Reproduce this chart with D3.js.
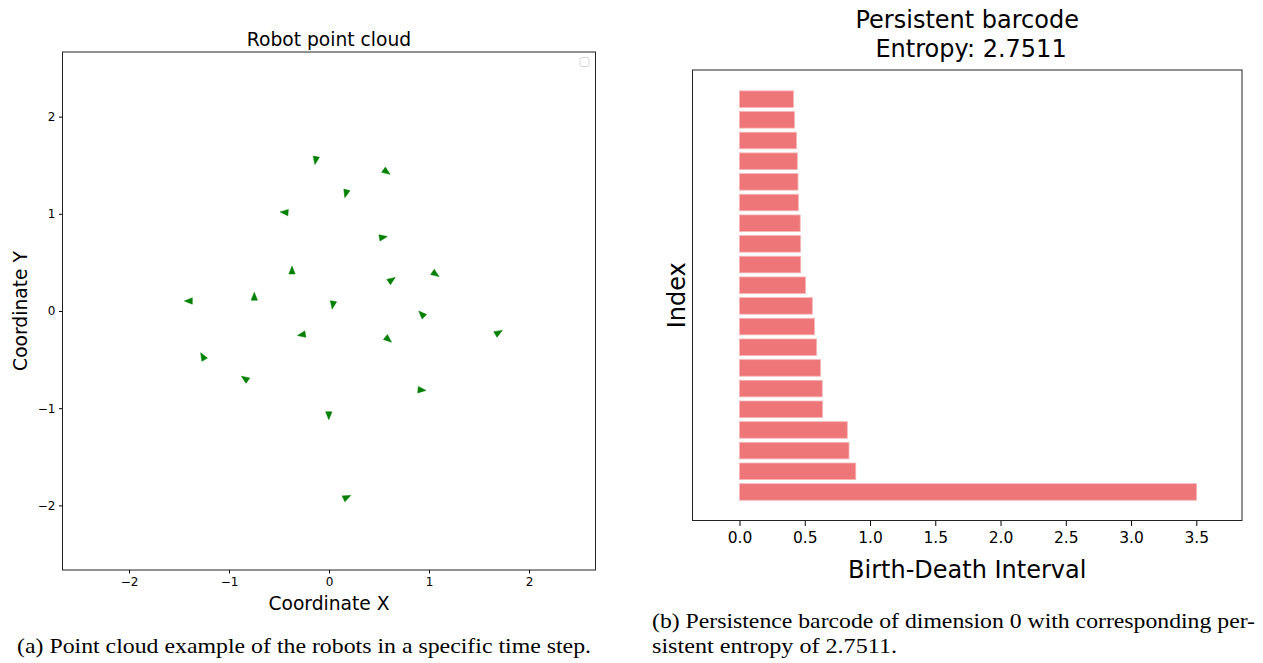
<!DOCTYPE html>
<html>
<head>
<meta charset="utf-8">
<script src="https://cdn.jsdelivr.net/npm/d3@7"></script>
<style>
  body { margin: 0; background: #fff; }
  svg text { font-family: "DejaVu Sans", sans-serif; }
  .caption { font-family: "Liberation Serif", "Times New Roman", serif !important; }
</style>
</head>
<body>
<div id="chart"></div>
<script>
// robot positions (left panel) and headings in degrees, screen direction (0 = right, 90 = down)
const robotX = [-0.133, 0.574, 0.170, -0.444, 0.539, -0.370, 1.063, 0.625, -1.402, -0.747,
                0.039, 0.929, -0.271, 1.694, 0.591, -1.261, -0.840, 0.925, -0.002, 0.177];
const robotY = [1.553, 1.433, 1.211, 1.015, 0.758, 0.417, 0.381, 0.319, 0.103, 0.147,
                0.065, -0.034, -0.244, -0.223, -0.291, -0.470, -0.697, -0.813, -1.073, -1.917];
const robotHeading = [100, 35, 105, 185, -10, -90, 35, -35, 180, -90,
                      100, -135, 170, -30, 40, -120, -145, 5, 90, -25];
const pointTicks = [-2, -1, 0, 1, 2];

// persistence barcode (right panel), index 0 is the bottom bar
const barBirth = 0;
const barLength = [3.502, 0.891, 0.839, 0.826, 0.637, 0.634, 0.621, 0.591, 0.574, 0.558,
                   0.506, 0.469, 0.468, 0.465, 0.451, 0.448, 0.443, 0.437, 0.421, 0.413];
const barTicks = [0, 0.5, 1, 1.5, 2, 2.5, 3, 3.5];
const entropy = "2.7511";

const svg = d3.select("#chart").append("svg")
    .attr("width", 1263)
    .attr("height", 663);

svg.append("rect").attr("width", 1263).attr("height", 663).attr("fill", "#fff");

// ---------- left: robot point cloud ----------
const L = { left: 62.5, right: 595.5, top: 52, bottom: 570 };

const x1 = d3.scaleLinear().domain([-2.665, 2.665]).range([L.left, L.right]);
const y1 = d3.scaleLinear().domain([-2.665, 2.665]).range([L.bottom, L.top]);

const left = svg.append("g");

left.append("g")
    .attr("transform", `translate(0,${L.bottom})`)
    .call(d3.axisBottom(x1).tickValues(pointTicks).tickFormat(d3.format("d")).tickSize(3.5).tickPadding(3.5))
    .call(g => g.select(".domain").remove())
    .call(g => g.selectAll("text").attr("font-size", 12).attr("font-family", "DejaVu Sans"));

left.append("g")
    .attr("transform", `translate(${L.left},0)`)
    .call(d3.axisLeft(y1).tickValues(pointTicks).tickFormat(d3.format("d")).tickSize(3.5).tickPadding(3.5))
    .call(g => g.select(".domain").remove())
    .call(g => g.selectAll("text").attr("font-size", 12).attr("font-family", "DejaVu Sans"));

const robots = d3.range(robotX.length).map(i => ({ x: robotX[i], y: robotY[i], h: robotHeading[i] }));

left.append("g")
    .selectAll("path")
    .data(robots)
    .join("path")
    .attr("d", "M4.5,0L-3.5,-3.2L-3.5,3.2Z")
    .attr("fill", "#008000")
    .attr("stroke", "#008000")
    .attr("stroke-width", 0.5)
    .attr("transform", d => `translate(${x1(d.x)},${y1(d.y)}) rotate(${d.h})`);

left.append("rect")
    .attr("x", L.left).attr("y", L.top)
    .attr("width", L.right - L.left).attr("height", L.bottom - L.top)
    .attr("fill", "none").attr("stroke", "#222").attr("stroke-width", 1);

// empty legend box
left.append("rect")
    .attr("x", 580).attr("y", 57.5).attr("width", 9).attr("height", 9)
    .attr("rx", 2)
    .attr("fill", "#fff").attr("stroke", "#d5d5d5").attr("stroke-width", 1);

left.append("text")
    .attr("x", (L.left + L.right) / 2).attr("y", 46)
    .attr("text-anchor", "middle").attr("font-size", 18.7)
    .text("Robot point cloud");

left.append("text")
    .attr("x", (L.left + L.right) / 2).attr("y", 610)
    .attr("text-anchor", "middle").attr("font-size", 18.7)
    .text("Coordinate X");

left.append("text")
    .attr("transform", `translate(27,${(L.top + L.bottom) / 2}) rotate(-90)`)
    .attr("text-anchor", "middle").attr("font-size", 18.7)
    .text("Coordinate Y");

// ---------- right: persistence barcode ----------
const R = { left: 692.5, right: 1242, top: 70, bottom: 520.5 };

const x2 = d3.scaleLinear().domain([-0.36, 3.85]).range([R.left, R.right]);
const y2 = d3.scaleLinear().domain([-1.38, 20.41]).range([R.bottom, R.top]);

const right = svg.append("g");

right.append("g")
    .selectAll("rect")
    .data(barLength)
    .join("rect")
    .attr("x", x2(barBirth))
    .attr("y", (d, i) => y2(i + 0.4))
    .attr("width", d => x2(barBirth + d) - x2(barBirth))
    .attr("height", y2(0) - y2(0.8))
    .attr("fill", "#ee7678")
    .attr("stroke", "#f6b4b5")
    .attr("stroke-width", 0.8);

right.append("g")
    .attr("transform", `translate(0,${R.bottom})`)
    .call(d3.axisBottom(x2).tickValues(barTicks).tickFormat(d3.format(".1f")).tickSize(5.5).tickPadding(6))
    .call(g => g.select(".domain").remove())
    .call(g => g.selectAll("text").attr("font-size", 15.5).attr("font-family", "DejaVu Sans"));

right.append("rect")
    .attr("x", R.left).attr("y", R.top)
    .attr("width", R.right - R.left).attr("height", R.bottom - R.top)
    .attr("fill", "none").attr("stroke", "#222").attr("stroke-width", 1);

const cx2 = (R.left + R.right) / 2;

right.append("text")
    .attr("x", cx2).attr("y", 28)
    .attr("text-anchor", "middle").attr("font-size", 24)
    .text("Persistent barcode");

right.append("text")
    .attr("x", cx2).attr("y", 57)
    .attr("text-anchor", "middle").attr("font-size", 24)
    .style("white-space", "pre")
    .text(" Entropy: " + entropy);

right.append("text")
    .attr("x", cx2).attr("y", 578)
    .attr("text-anchor", "middle").attr("font-size", 24)
    .text("Birth-Death Interval");

right.append("text")
    .attr("transform", `translate(685,${(R.top + R.bottom) / 2}) rotate(-90)`)
    .attr("text-anchor", "middle").attr("font-size", 24)
    .text("Index");

// ---------- captions ----------
function caption(x, y, w, str) {
    svg.append("text")
        .attr("class", "caption")
        .attr("x", x).attr("y", y)
        .attr("font-size", 21)
        .attr("textLength", w)
        .attr("lengthAdjust", "spacingAndGlyphs")
        .text(str);
}

caption(17, 653, 574, "(a) Point cloud example of the robots in a specific time step.");
caption(652, 628, 603, "(b) Persistence barcode of dimension 0 with corresponding per-");
caption(652, 653, 245, "sistent entropy of " + entropy + ".");
</script>
</body>
</html>
